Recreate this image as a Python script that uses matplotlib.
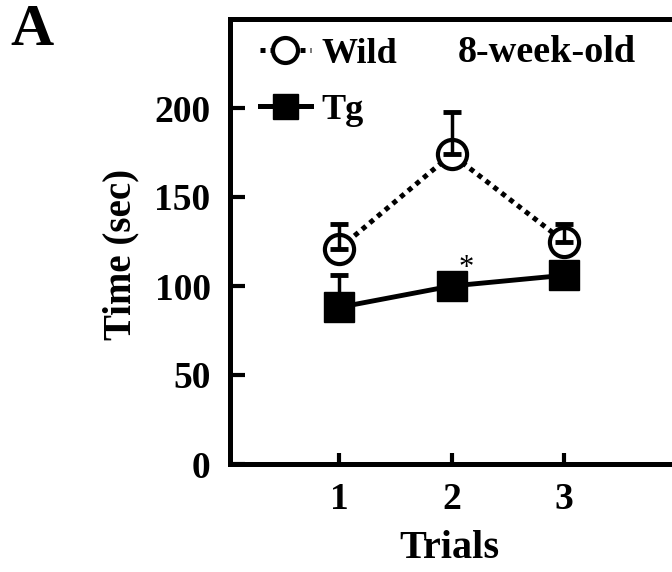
import numpy as np
import matplotlib.pyplot as plt
from matplotlib.lines import Line2D

# Values (mean and upper SEM)
trials = [1, 2, 3]
wild_mean = [121, 174, 125]
wild_err = [14, 24, 10]
tg_mean = [88, 100, 106]
tg_err = [18, 6, 5]
yticks = [0, 50, 100, 150, 200]

plt.rcParams['font.family'] = ['Liberation Serif', 'DejaVu Serif']
plt.rcParams['font.weight'] = 'bold'

fig = plt.figure(figsize=(6.72, 5.72), dpi=100)
# axes runs a little past the right edge, like the cropped original
ax = fig.add_axes([230 / 672, 108 / 572, 450 / 672, 445 / 572])

# Wild: dotted line, open circles, error bar drawn on top of the marker
ax.plot(trials, wild_mean, color='black', linestyle=(0, (1, 1)), linewidth=3.6,
        dash_capstyle='butt', marker='o', markersize=21, markerfacecolor='white',
        markeredgecolor='black', markeredgewidth=3, zorder=3)
ax.errorbar(trials, wild_mean, yerr=[np.zeros(3), wild_err], fmt='none',
            ecolor='black', elinewidth=2.5, capsize=6.5, capthick=3.5, zorder=4)

# Tg: solid line, filled squares
ax.errorbar(trials, tg_mean, yerr=[np.zeros(3), tg_err], fmt='none',
            ecolor='black', elinewidth=2.5, capsize=6.5, capthick=3.5, zorder=2)
ax.plot(trials, tg_mean, color='black', linewidth=3.5, marker='s', markersize=21,
        markerfacecolor='black', markeredgecolor='black', zorder=3)

ax.text(2.13, 105.5, '*', fontsize=22, ha='center', va='baseline',
        fontweight='normal')

ax.set_xlim(0.03, 4.03)
ax.set_ylim(0, 250)
ax.set_xticks(trials)
ax.set_yticks(yticks)
ax.tick_params(axis='both', direction='in', width=3, labelsize=27)
ax.tick_params(axis='y', length=11, pad=14)
ax.tick_params(axis='x', length=8, pad=13)
for s in ax.spines.values():
    s.set_linewidth(3.6)

ax.set_xlabel('Trials', fontsize=29, fontweight='bold')
ax.set_ylabel('Time (sec)', fontsize=28, fontweight='bold')
ax.xaxis.set_label_coords(0.487, -0.148)
ax.yaxis.set_label_coords(-0.202, 0.47)

handles = [
    Line2D([], [], color='black', linestyle=(0, (1, 1)), linewidth=3.6,
           dash_capstyle='butt', marker='o', markersize=18,
           markerfacecolor='white', markeredgewidth=3),
    Line2D([], [], color='black', linewidth=3.6, marker='s', markersize=18),
]
ax.legend(handles, ['Wild', 'Tg'], loc='upper left', frameon=False,
          prop={'size': 26, 'weight': 'bold'}, handlelength=1.4,
          handletextpad=0.3, labelspacing=0.63, borderaxespad=0,
          borderpad=0, bbox_to_anchor=(0.067, 0.959))

ax.text(0.704, 0.925, '8-week-old', transform=ax.transAxes, fontsize=27.5,
        fontweight='bold', ha='center', va='center')

fig.text(32 / 672, 1 - 31 / 572, 'A', fontsize=43, fontweight='bold',
         ha='center', va='center')

fig.savefig('out.png', dpi=100)
